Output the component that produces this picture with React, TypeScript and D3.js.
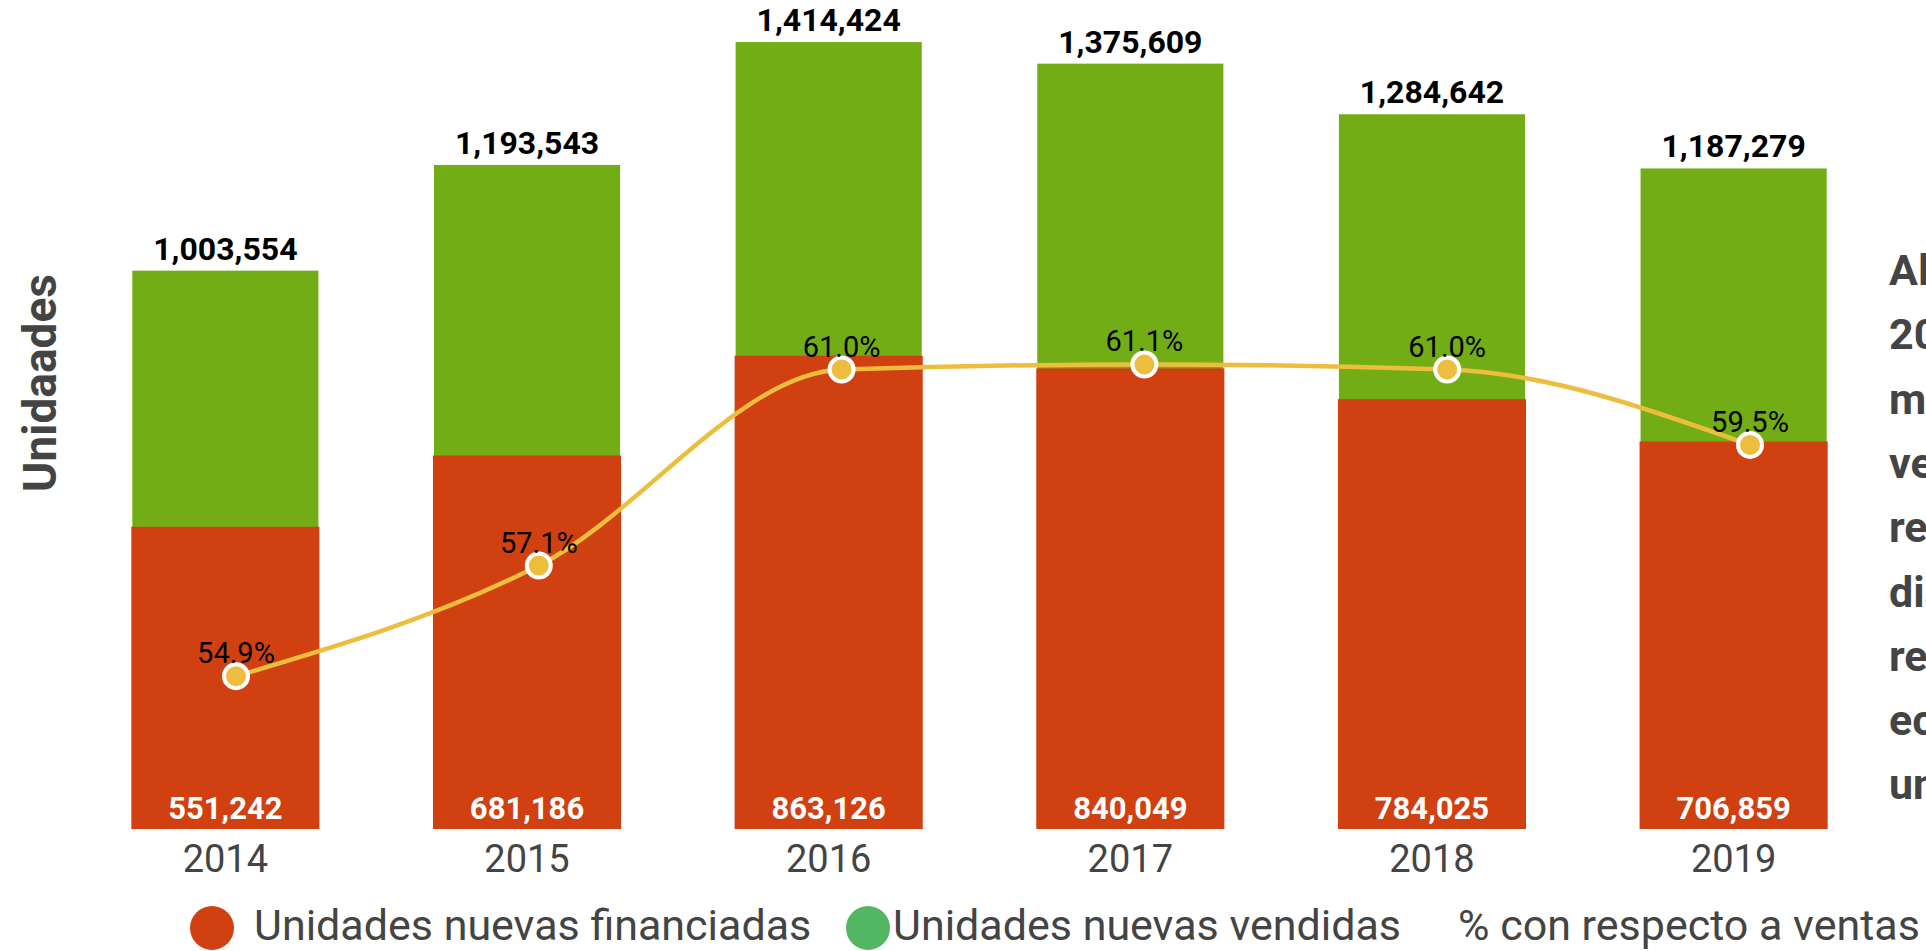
import { scaleBand, scaleLinear, scalePoint, line as d3_line, curveMonotoneX, format } from "d3";

const years = ["2014", "2015", "2016", "2017", "2018", "2019"];
const vendidas = [1003554, 1193543, 1414424, 1375609, 1284642, 1187279];
const financiadas = [551242, 681186, 863126, 840049, 784025, 706859];
const porcentaje = [54.9, 57.1, 61.0, 61.1, 61.0, 59.5];

const legendLabels = [
  "Unidades nuevas financiadas",
  "Unidades nuevas vendidas",
  "% con respecto a ventas",
];

// side note, cut by the right edge in the original
const nota = [
  "Al cierre del",
  "2019 se",
  "mantiene la",
  "venta de",
  "reducción,",
  "disminuyendo",
  "respecto al",
  "económico",
  "unidades",
];

const WIDTH = 1926;
const HEIGHT = 951;
const BASE = 829;

const RED = "#D04010";
const GREEN = "#72AD16";
const GOLD = "#EDBD3E";
const GREY = "#444444";
const FONT = "Roboto, 'Noto Sans', sans-serif";

export default function App() {
  const x = scaleBand<string>()
    .domain(years)
    .range([75, 1884])
    .paddingInner(0.383)
    .paddingOuter(0.19);

  // the line sits on its own, slightly shifted point scale
  const xLine = scalePoint<string>().domain(years).range([236, 1750]);

  const yTotal = scaleLinear().domain([0, 1490000]).range([BASE, 0]);
  const yFin = scaleLinear().domain([0, 1512000]).range([BASE, 0]);
  const yPct = scaleLinear().domain([51.86, 68.35]).range([BASE, 0]);

  const pts = years.map((yr, i) => ({ yr, v: porcentaje[i] }));
  const path = d3_line<(typeof pts)[number]>()
    .x((d) => xLine(d.yr) as number)
    .y((d) => yPct(d.v))
    .curve(curveMonotoneX)(pts);

  const fmt = format(",");
  const fmtPct = (v: number) => `${format(".1f")(v)}%`;
  const bw = x.bandwidth();

  return (
    <div style={{ position: "fixed", left: 0, top: 0, width: WIDTH, height: HEIGHT, background: "#fff" }}>
      <svg width={WIDTH} height={HEIGHT} style={{ display: "block", fontFamily: FONT }}>
        {/* Y axis title */}
        <text
          transform={`translate(56,383) rotate(-90)`}
          textAnchor="middle"
          fontSize={46}
          fontWeight={700}
          fill={GREY}
        >
          Unidaades
        </text>

        {/* Bars: total sold behind, financed in front */}
        {years.map((yr, i) => {
          const x0 = x(yr) as number;
          return (
            <g key={yr}>
              <rect x={x0} y={yTotal(vendidas[i])} width={bw} height={BASE - yTotal(vendidas[i])} fill={GREEN} />
              <rect x={x0 - 1} y={yFin(financiadas[i])} width={bw + 2} height={BASE - yFin(financiadas[i])} fill={RED} />
              <text
                x={x0 + bw / 2}
                y={yTotal(vendidas[i]) - 11}
                textAnchor="middle"
                fontSize={32}
                fontWeight={700}
                fill="#000"
              >
                {fmt(vendidas[i])}
              </text>
              <text
                x={x0 + bw / 2}
                y={BASE - 10}
                textAnchor="middle"
                fontSize={31}
                fontWeight={700}
                fill="#fff"
              >
                {fmt(financiadas[i])}
              </text>
              <text x={x0 + bw / 2} y={872} textAnchor="middle" fontSize={38} fill={GREY}>
                {yr}
              </text>
            </g>
          );
        })}

        {/* Percentage line */}
        <path d={path ?? ""} fill="none" stroke={GOLD} strokeWidth={4.5} />
        {pts.map((d) => (
          <circle
            key={d.yr}
            cx={xLine(d.yr)}
            cy={yPct(d.v)}
            r={12}
            fill={GOLD}
            stroke="#fff"
            strokeWidth={4}
          />
        ))}
        {pts.map((d) => (
          <text
            key={d.yr}
            x={xLine(d.yr)}
            y={yPct(d.v) - 13}
            textAnchor="middle"
            fontSize={29}
            fill="#000"
          >
            {fmtPct(d.v)}
          </text>
        ))}

        {/* Side note */}
        {nota.map((t, i) => (
          <text key={i} x={1889} y={285 + i * 64.3} fontSize={43} fontWeight={700} fill={GREY}>
            {t}
          </text>
        ))}

        {/* Legend */}
        <g>
          <circle cx={212} cy={928} r={22} fill={RED} />
          <text x={254} y={940} fontSize={43} fill={GREY}>
            {legendLabels[0]}
          </text>
          <circle cx={868} cy={928} r={22} fill="#52B663" />
          <text x={893} y={940} fontSize={43} fill={GREY}>
            {legendLabels[1]}
          </text>
          <text x={1458} y={940} fontSize={43} fill={GREY}>
            {legendLabels[2]}
          </text>
        </g>
      </svg>
    </div>
  );
}
